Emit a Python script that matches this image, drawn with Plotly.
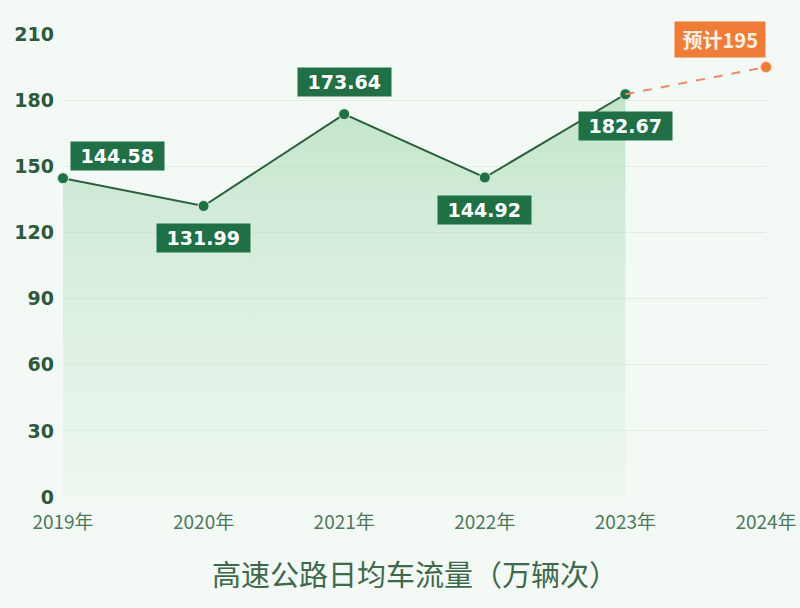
import plotly.graph_objects as go

# 高速公路日均车流量（万辆次）
years = ['2019年', '2020年', '2021年', '2022年', '2023年']
flow = [144.58, 131.99, 173.64, 144.92, 182.67]
forecast_years = ['2023年', '2024年']
forecast_flow = [182.67, 195]
all_years = years + ['2024年']
y_ticks = [0, 30, 60, 90, 120, 150, 180, 210]

green = '#1f7145'
orange = '#f27b35'
bg = '#f3f9f4'

fig = go.Figure()

# actual values with green gradient area
fig.add_trace(go.Scatter(
    x=years, y=flow, mode='lines+markers', fill='tozeroy',
    fillgradient=dict(type='vertical',
                      colorscale=[[0, 'rgba(220,240,225,0.3)'],
                                  [1, 'rgba(160,215,175,0.6)']]),
    line=dict(color='#2a5f3c', width=2),
    marker=dict(size=11, color=green, line=dict(color='#d8eedd', width=1)),
    hoverinfo='skip', showlegend=False, cliponaxis=False))

# forecast part
fig.add_trace(go.Scatter(
    x=forecast_years, y=forecast_flow, mode='lines',
    line=dict(color='#ec8c66', width=2, dash='dash'),
    hoverinfo='skip', showlegend=False, cliponaxis=False))
fig.add_trace(go.Scatter(
    x=[forecast_years[-1]], y=[forecast_flow[-1]], mode='markers',
    marker=dict(size=11, color=orange, line=dict(color='#fbd3b8', width=1)),
    hoverinfo='skip', showlegend=False, cliponaxis=False))

# value labels: (xshift, yshift) per point
shifts = [(54, 22), (0, -32), (0, 32), (0, -33), (0, -32)]
for yr, v, (dx, dy) in zip(years, flow, shifts):
    fig.add_annotation(x=yr, y=v, text=f'&nbsp;{v:.2f}&nbsp;', showarrow=False,
                       xshift=dx, yshift=dy, bgcolor=green, borderpad=3,
                       font=dict(color='white', size=19, family='DejaVu Sans', weight='bold'))
fig.add_annotation(x=forecast_years[-1], y=forecast_flow[-1],
                   text=f'&nbsp;预计{forecast_flow[-1]}&nbsp;', showarrow=False,
                   xshift=-46, yshift=28, bgcolor=orange, borderpad=3,
                   font=dict(color='#fff3ea', size=20, family='Noto Sans CJK SC', weight='bold'))

fig.add_annotation(x=0.5, y=-0.164, xref='paper', yref='paper', yanchor='middle',
                   text='高速公路日均车流量（万辆次）', showarrow=False,
                   font=dict(size=29, color='#3d6a4b', family='Noto Sans CJK SC'))

fig.update_xaxes(type='category', categoryorder='array', categoryarray=all_years,
                 range=[0, 5], showgrid=False, showline=False, zeroline=False,
                 ticks='', ticklabelstandoff=12, automargin=False,
                 tickfont=dict(size=19, color='#4a7a5a', family='Noto Sans CJK SC'))
fig.update_yaxes(range=[0, 210], tickvals=y_ticks, showgrid=True, gridcolor='#e2ece4',
                 gridwidth=1, zeroline=False, showline=False, ticks='',
                 ticklabelstandoff=8, automargin=False,
                 tickfont=dict(size=19, color='#2d5a3c', family='DejaVu Sans', weight='bold'))

fig.update_layout(width=800, height=608, margin=dict(l=63, r=34, t=34, b=111),
                  paper_bgcolor=bg, plot_bgcolor=bg)

fig.write_html('out.html', config={'displayModeBar': False},
               post_script="document.body.style.margin='0';"
                           "document.body.style.background='%s';" % bg)
